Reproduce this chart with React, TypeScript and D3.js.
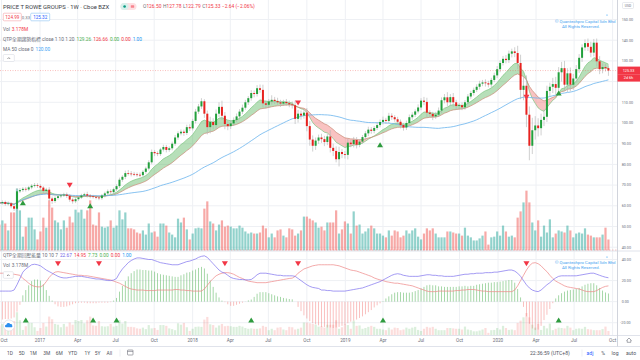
import * as d3 from 'd3';

// weekly bars, first week starts Mon 26 Sep 2016
const firstOpen = 61.8;
const closes = [
  61.3, 61.8, 60.9, 61.2, 59.8, 58.6, 67.0, 67.6, 68.2, 67.9,
  68.9, 69.7, 70.0, 69.6, 68.8, 67.2, 67.8, 63.5, 62.3, 63.8,
  64.6, 65.0, 65.4, 64.8, 63.0, 62.2, 63.2, 64.0, 65.0, 65.6,
  64.9, 64.6, 64.3, 64.0, 63.7, 65.0, 66.0, 67.0, 66.6, 68.0,
  69.5, 72.6, 74.0, 75.8, 75.6, 75.4, 75.2, 75.0, 74.8, 76.4,
  78.0, 81.0, 86.0, 85.4, 85.0, 87.2, 88.4, 87.0, 87.8, 90.0,
  93.0, 95.0, 95.8, 95.2, 98.0, 97.4, 101.0, 105.5, 108.0, 110.5,
  104.5, 98.0, 100.5, 99.0, 104.5, 107.8, 103.5, 99.5, 98.5, 99.8,
  101.5, 103.2, 105.5, 107.4, 110.0, 112.0, 114.5, 114.0, 116.8, 116.0,
  109.5, 108.8, 110.4, 111.2, 110.6, 110.0, 109.4, 110.2, 109.6, 109.0,
  108.6, 102.0, 104.5, 103.6, 105.0, 98.5, 92.0, 89.0, 91.5, 93.0,
  92.2, 90.8, 93.5, 88.0, 86.5, 82.5, 86.0, 85.0, 84.6, 90.5,
  89.8, 91.8, 89.5, 91.0, 93.2, 95.0, 96.8, 96.2, 97.6, 99.0,
  100.5, 101.5, 101.0, 103.5, 102.8, 101.8, 100.6, 99.0, 97.8, 100.0,
  102.8, 104.0, 105.6, 107.5, 110.8, 110.2, 105.0, 104.4, 103.2, 104.0,
  106.0, 111.0, 112.4, 110.0, 112.5, 110.0, 108.2, 108.6, 107.6, 110.0,
  112.8, 114.5, 116.0, 117.5, 119.0, 119.6, 119.2, 118.6, 120.8, 123.0,
  126.0, 129.0, 131.0, 130.4, 133.5, 134.6, 133.8, 129.0, 116.0, 118.0,
  104.0, 89.0, 96.5, 98.8, 97.5, 101.5, 103.0, 115.5, 117.5, 118.8,
  117.0, 124.5, 126.5, 118.5, 124.0, 118.5, 121.5, 126.0, 131.5, 136.5,
  138.6, 136.8, 134.0, 138.8, 129.8, 126.0, 127.0, 126.5, 125.33,
];
// wick length above / below the body
const hiWick = [
  0.6, 0.8, 0.7, 0.9, 0.6, 0.8, 1.5, 1.0, 0.8, 0.9, 0.7, 0.8, 1.0, 0.9, 0.8, 0.7, 0.9, 1.2, 1.0, 0.8,
  0.7, 0.8, 0.9, 1.0, 0.8, 0.7, 0.8, 0.9, 0.8, 0.7, 1.2, 0.8, 0.7, 0.9, 0.8, 0.7, 0.8, 0.9, 1.0, 0.8,
  0.9, 1.0, 0.8, 1.2, 1.5, 1.2, 1.0, 0.9, 1.1, 0.8, 0.9, 1.0, 1.2, 1.0, 0.9, 0.8, 1.1, 1.0, 0.9, 1.0,
  1.2, 1.0, 1.1, 1.0, 1.2, 1.4, 1.0, 1.3, 1.2, 1.5, 1.0, 1.5, 2.5, 1.8, 2.0, 2.2, 3.0, 1.8, 1.5, 1.6,
  1.2, 1.4, 1.2, 1.5, 1.2, 1.0, 1.4, 1.2, 1.5, 1.8, 2.5, 1.5, 1.2, 2.2, 1.4, 1.6, 1.2, 1.0, 1.4, 1.2,
  1.4, 2.2, 1.8, 1.5, 1.6, 2.2, 2.5, 2.0, 1.5, 1.4, 1.8, 1.6, 1.2, 3.0, 2.0, 2.2, 2.5, 1.4, 1.5, 1.8,
  1.2, 1.5, 1.4, 1.2, 1.0, 1.1, 1.4, 1.2, 1.0, 1.3, 1.2, 1.6, 1.0, 1.4, 1.2, 1.0, 1.2, 1.1, 1.0, 1.2,
  1.3, 1.2, 1.0, 1.5, 1.2, 1.8, 2.0, 1.2, 1.0, 1.4, 1.5, 1.4, 1.6, 2.5, 1.5, 2.0, 1.2, 1.0, 1.3, 1.1,
  1.2, 1.0, 1.1, 1.2, 1.4, 1.2, 1.5, 1.2, 1.0, 1.3, 1.5, 1.2, 1.4, 1.8, 1.5, 1.3, 2.0, 3.5, 4.0, 4.5,
  5.0, 4.0, 6.0, 4.5, 3.5, 3.0, 3.5, 2.5, 2.0, 3.0, 3.5, 2.5, 3.0, 3.5, 2.5, 2.8, 2.2, 2.0, 1.8, 1.5,
  1.8, 2.2, 2.5, 1.8, 2.0, 2.5, 1.8, 1.5, 1.28,
];
const loWick = [
  0.8, 0.7, 0.9, 0.8, 1.0, 1.1, 1.0, 0.8, 0.9, 1.0, 0.8, 0.9, 0.8, 1.0, 0.9, 1.1, 0.8, 1.2, 1.4, 0.9,
  0.8, 0.9, 0.7, 1.0, 1.1, 1.2, 0.9, 0.8, 0.7, 0.8, 0.9, 1.0, 0.8, 0.9, 1.0, 0.8, 0.9, 0.8, 1.0, 0.9,
  0.8, 0.9, 1.0, 1.1, 1.0, 1.2, 0.9, 1.0, 1.1, 0.8, 0.9, 1.0, 0.9, 1.4, 1.0, 0.9, 1.0, 1.2, 0.9, 1.0,
  1.0, 1.1, 1.0, 1.4, 1.0, 1.3, 1.0, 1.2, 1.1, 1.2, 2.0, 3.5, 3.0, 2.0, 1.8, 1.6, 2.0, 2.5, 2.0, 1.4,
  1.2, 1.0, 1.4, 1.2, 1.0, 1.3, 1.2, 1.6, 1.2, 1.4, 2.0, 1.8, 1.2, 1.5, 1.4, 1.2, 1.6, 1.2, 1.3, 1.4,
  1.6, 2.5, 1.8, 2.0, 1.5, 2.5, 3.0, 2.8, 2.0, 1.6, 1.8, 2.0, 1.5, 2.2, 2.5, 1.5, 3.5, 2.0, 1.8, 2.2,
  1.5, 1.6, 1.8, 1.2, 1.0, 1.2, 1.3, 1.4, 1.2, 1.0, 1.1, 1.2, 1.4, 1.0, 1.3, 1.2, 1.4, 1.6, 1.5, 1.2,
  1.0, 1.2, 1.1, 1.0, 1.3, 1.6, 2.2, 1.5, 1.8, 1.2, 1.1, 1.3, 1.5, 2.0, 1.8, 2.2, 1.8, 1.5, 1.4, 1.2,
  1.0, 1.1, 1.2, 1.0, 1.3, 1.2, 1.6, 1.4, 1.2, 1.1, 1.3, 1.5, 1.2, 1.6, 1.4, 1.8, 2.0, 3.0, 4.5, 5.0,
  6.0, 7.0, 4.0, 4.5, 4.0, 3.5, 3.0, 2.5, 2.8, 3.0, 4.0, 3.5, 4.5, 3.0, 3.5, 3.2, 2.5, 2.0, 1.8, 2.0,
  1.6, 2.0, 2.2, 1.8, 2.5, 2.4, 2.0, 1.6, 2.54,
];
// weekly volume, millions
const volumes = [
  7.5, 8.7, 7.8, 5.8, 11.0, 11.0, 17.9, 11.6, 4.0, 6.9,
  9.5, 9.5, 6.1, 3.2, 5.5, 9.5, 6.6, 14.5, 12.4, 8.7,
  8.1, 6.1, 8.7, 6.6, 9.8, 8.1, 11.8, 11.0, 11.8, 9.2,
  11.6, 14.5, 7.5, 7.2, 11.0, 6.9, 6.6, 6.9, 8.7, 6.6,
  7.2, 11.6, 9.0, 11.0, 6.4, 6.4, 6.1, 5.2, 4.9, 5.8,
  4.6, 7.8, 5.2, 5.5, 4.0, 7.8, 7.8, 7.2, 5.2, 4.6,
  3.8, 9.2, 8.1, 9.5, 6.1, 3.2, 4.9, 6.4, 6.6, 6.4,
  12.1, 14.2, 8.4, 7.8, 5.8, 7.5, 8.7, 6.9, 7.2, 6.9,
  6.4, 6.4, 7.2, 6.6, 5.5, 4.9, 5.2, 4.9, 4.9, 5.2,
  7.2, 6.4, 3.8, 4.9, 3.8, 5.8, 6.1, 4.3, 3.8, 6.4,
  6.1, 4.3, 4.9, 5.8, 9.8, 9.8, 9.2, 8.7, 8.1, 6.6,
  6.9, 5.8, 8.1, 8.1, 8.1, 11.6, 4.9, 6.1, 8.4, 7.8,
  4.9, 11.3, 7.2, 7.5, 4.9, 5.5, 6.4, 7.2, 6.4, 4.9,
  4.9, 4.3, 3.8, 5.8, 4.3, 5.8, 5.5, 3.8, 4.3, 5.8,
  4.9, 5.8, 6.4, 4.0, 3.2, 4.9, 6.4, 5.8, 6.4, 4.9,
  3.8, 3.8, 3.8, 5.5, 5.5, 5.2, 4.9, 4.9, 4.3, 6.6,
  4.3, 3.8, 2.9, 2.9, 3.5, 4.3, 5.5, 1.7, 3.8, 4.0,
  5.5, 4.3, 7.2, 5.5, 4.0, 4.3, 3.8, 9.5, 11.3, 13.9,
  17.3, 13.9, 8.1, 5.8, 8.7, 4.0, 7.2, 5.2, 9.0, 3.8,
  4.9, 5.8, 5.5, 5.2, 7.2, 5.8, 3.8, 4.9, 5.2, 4.9,
  6.4, 4.6, 4.3, 3.8, 3.8, 3.8, 4.6, 6.6, 3.178,
];
// lower pane oscillator lines
const oscBlue = [
  10, 10, 10, 10, 10, 11, 16, 22, 28, 31,
  33, 35, 35.5, 35, 34, 32, 30, 28.5, 27, 25.5,
  24, 23, 22.5, 22.5, 23, 23.5, 24, 24, 24, 23.5,
  23, 22.5, 22, 21.5, 21.5, 21, 20.5, 20, 20, 20.5,
  22, 27, 31, 34, 37, 39, 40.5, 41.5, 41.5, 41,
  40.5, 40, 40, 39, 38, 37, 36.5, 36, 35.5, 35,
  35, 35, 36, 37, 38, 38.5, 39.5, 40.5, 42, 43,
  43.5, 42, 39, 36, 33, 30, 28, 27, 25, 23,
  22, 21.5, 21, 21, 20.7, 20.7, 21, 23, 25.5, 27,
  27, 27, 26.5, 26, 25.5, 25, 25, 24.5, 24.5, 24.5,
  24.5, 24, 22, 20, 18, 16, 14.5, 13.5, 13, 12.5,
  11, 11, 10.5, 10.5, 10, 10, 10, 10, 10, 10.5,
  11, 11.5, 12, 12.5, 13, 14, 15, 16, 17, 18,
  19, 20.5, 22, 23.5, 25, 26, 26.5, 26, 25, 24.5,
  24, 24, 24, 24, 24.5, 25, 25.5, 25.5, 25, 25,
  24.5, 24.5, 24, 24, 24, 24, 24.5, 25, 25.5, 26,
  26, 26.5, 26.5, 27, 27, 27, 27.5, 27.5, 27.5, 28,
  28, 28.5, 29, 29.5, 30, 30, 29, 27, 24, 20,
  16, 13, 11, 10, 9.5, 11, 13.5, 16, 18, 20.5,
  22.5, 24, 24.5, 24.5, 24.5, 24.5, 24.5, 24.5, 25, 25.5,
  26, 26.5, 27, 27, 26, 25, 24, 23.2, 22.67,
];
const oscRed = [
  27, 27, 26.5, 26.5, 26, 26, 25.5, 25, 22, 20,
  17.5, 15.5, 14.5, 14, 14, 15.5, 19, 23, 26, 28,
  28.5, 28, 27.5, 27, 26.5, 26, 25.5, 25, 25, 24.5,
  24.5, 24, 23.5, 23, 22.5, 22, 21.5, 21, 20.5, 19.5,
  18.5, 17.5, 16, 14.5, 13, 12, 11.5, 11, 11, 11,
  10.5, 10.5, 10.5, 10.5, 11, 11, 11, 11, 11, 11,
  11.5, 11.5, 11, 11, 10.5, 10.5, 10, 10, 10, 10,
  12, 15.5, 19, 22, 24.5, 26, 27, 27.5, 27.5, 27,
  26, 24.5, 23, 22, 20.6, 19.5, 19, 18.5, 18, 18,
  18, 18, 18.5, 19, 19.5, 20, 20.5, 21, 21.5, 22,
  22.3, 24, 27, 29, 31, 32, 33, 34, 34.5, 35,
  35, 35, 35, 35, 35, 34.5, 34, 33, 32, 31,
  30, 29.5, 29, 28, 27, 26, 25, 24, 22.5, 21.5,
  20.6, 20, 19, 18.5, 18, 17.5, 17.5, 17, 16.5, 16,
  15.5, 15, 14, 13, 12, 11, 10, 9.5, 9.5, 9.5,
  10, 10, 10, 10, 10, 10, 10.5, 10.5, 11, 11,
  11.5, 11.5, 11.5, 11, 10.5, 10, 10, 9.5, 9.5, 9.5,
  9.5, 9.5, 9.5, 9.5, 9.5, 9.5, 11, 15, 20, 25,
  30, 34, 36.5, 37, 36, 34, 31, 28.5, 25, 22,
  19.5, 18, 16.5, 15, 14, 13.5, 13, 12.5, 12, 11,
  10, 9.5, 9.5, 9.5, 10.5, 12, 13.5, 14.5, 14.95,
];
// signals (week index + price level)
const mainBuyWeeks = [8, 31, 130, 191];
const mainBuyPrices = [61.4, 60.0, 89.4, 114.5];
const mainSellWeeks = [24, 102, 180];
const mainSellPrices = [70.0, 109.7, 112.5];
const oscBuyWeeks = [9, 32, 40, 86, 131, 191];
const oscSellWeeks = [20, 34, 77, 102, 180];

const priceTicks = [40, 50, 60, 70, 80, 90, 100, 110, 120, 130, 140, 150];
const oscTicks = [-20, 0, 20, 40];
const lastPrice = 125.33;
const rangeButtons = ['1D', '5D', '1M', '3M', '6M', 'YTD', '1Y', '5Y', 'All'];
const rangeButtonX = [10, 21.7, 33.3, 46.7, 59.3, 72.7, 87.3, 97.7, 109.3];

const UP = '#22a03c';
const DOWN = '#e8221f';
const FONT = 'Roboto, "Noto Sans", "Noto Sans CJK TC", sans-serif';

function ema(values: number[], n: number) {
  const k = 2 / (n + 1);
  const out: number[] = [];
  values.forEach((v, i) => out.push(i === 0 ? v : v * k + out[i - 1] * (1 - k)));
  return out;
}

function sma(values: number[], n: number) {
  return values.map((_, i) => d3.mean(values.slice(Math.max(0, i - n + 1), i + 1)) as number);
}

const App = () => {
  const dates = closes.map((_, i) => new Date(2016, 8, 26 + 7 * i));
  const opens = closes.map((_, i) => (i === 0 ? firstOpen : closes[i - 1]));
  const highs = closes.map((c, i) => Math.max(c, opens[i]) + hiWick[i]);
  const lows = closes.map((c, i) => Math.min(c, opens[i]) - loWick[i]);
  const fast = ema(closes, 10);
  const slow = ema(closes, 20);
  const ma50 = sma(closes, 50);
  const hist = oscBlue.map((v, i) => v - oscRed[i]);

  const plotR = 617;
  const x = d3.scaleTime().domain([new Date(2017, 0, 1), new Date(2020, 0, 1)]).range([40, 498]);
  const yP = d3.scaleLinear().domain([40, 150]).range([247.2, 19.5]);
  const yV = d3.scaleLinear().domain([0, 20]).range([250.5, 181.3]);
  const yO = d3.scaleLinear().domain([-20, 40]).range([322.7, 259.5]);
  const yOV = d3.scaleLinear().domain([0, 17.3]).range([335, 313]);
  const timeTicks = d3.timeMonth.every(3)!.range(new Date(2016, 9, 1), new Date(2020, 10, 2));
  const fmtTick = (d: Date) => (d.getMonth() === 0 ? d3.timeFormat('%Y')(d) : d3.timeFormat('%b')(d));
  const xi = (i: number) => x(dates[i]);

  const greenArea = d3.area<number>()
    .x((_, i) => xi(i))
    .y0((_, i) => yP(slow[i]))
    .y1((_, i) => yP(Math.max(fast[i], slow[i])))(closes) || '';
  const redArea = d3.area<number>()
    .x((_, i) => xi(i))
    .y0((_, i) => yP(fast[i]))
    .y1((_, i) => yP(Math.max(fast[i], slow[i])))(closes) || '';
  const lineOf = (vals: number[], y: (v: number) => number) =>
    d3.line<number>().x((_, i) => xi(i)).y((v) => y(v))(vals) || '';

  const upTri = (cx: number, cy: number) => `M${cx},${cy - 2.6}L${cx + 3},${cy + 2.4}L${cx - 3},${cy + 2.4}Z`;
  const downTri = (cx: number, cy: number) => `M${cx - 3},${cy - 2.4}L${cx + 3},${cy - 2.4}L${cx},${cy + 2.6}Z`;

  const axisColor = '#6a6d78';
  const grid = '#eef0f4';
  const border = '#e0e3eb';

  return (
    <svg width={640} height={360} style={{ position: 'fixed', left: 0, top: 0 }} fontFamily={FONT}>
      <defs>
        <clipPath id="pricePane"><rect x={0} y={0} width={plotR} height={251} /></clipPath>
        <clipPath id="oscPane"><rect x={0} y={251} width={plotR} height={84} /></clipPath>
      </defs>
      <rect width={640} height={360} fill="#fff" />

      {/* grid */}
      {timeTicks.map((t, i) => (
        <line key={'vg' + i} x1={x(t)} x2={x(t)} y1={0} y2={335} stroke={grid} strokeWidth={1} />
      ))}
      {priceTicks.map((t) => (
        <line key={'hg' + t} x1={0} x2={plotR} y1={yP(t)} y2={yP(t)} stroke={grid} strokeWidth={1} />
      ))}
      {oscTicks.map((t) => (
        <line key={'og' + t} x1={0} x2={plotR} y1={yO(t)} y2={yO(t)} stroke={grid} strokeWidth={1} />
      ))}

      {/* price pane */}
      <g clipPath="url(#pricePane)">
        {volumes.map((v, i) => (
          <rect key={'v' + i} x={xi(i) - 1.1} y={yV(v)} width={2.2} height={yV(0) - yV(v)}
            fill={closes[i] >= opens[i] ? 'rgba(38,166,154,0.5)' : 'rgba(239,83,80,0.5)'} />
        ))}
        <path d={greenArea} fill="rgba(76,175,80,0.4)" />
        <path d={redArea} fill="rgba(239,83,80,0.35)" />
        <path d={lineOf(fast, yP)} fill="none" stroke="#7cc47f" strokeWidth={0.7} />
        <path d={lineOf(slow, yP)} fill="none" stroke="#c98a76" strokeWidth={0.7} />
        <path d={lineOf(ma50, yP)} fill="none" stroke="#6ab4ee" strokeWidth={0.8} />
        {closes.map((c, i) => {
          const cx = xi(i);
          const top = yP(Math.max(c, opens[i]));
          const bot = yP(Math.min(c, opens[i]));
          return (
            <g key={'c' + i}>
              <line x1={cx} x2={cx} y1={yP(highs[i])} y2={yP(lows[i])} stroke="#b0b0b0" strokeWidth={0.6} />
              <rect x={cx - 1} y={top} width={2} height={Math.max(0.8, bot - top)} fill={c >= opens[i] ? UP : DOWN} />
            </g>
          );
        })}
        {mainBuyWeeks.map((w, k) => (
          <path key={'mb' + k} d={upTri(xi(w), yP(mainBuyPrices[k]))} fill="#2e9b3e" />
        ))}
        {mainSellWeeks.map((w, k) => (
          <path key={'ms' + k} d={downTri(xi(w), yP(mainSellPrices[k]))} fill="#f23645" />
        ))}
        <line x1={0} x2={plotR} y1={yP(lastPrice)} y2={yP(lastPrice)} stroke="rgba(239,83,80,0.55)" strokeWidth={0.7} strokeDasharray="1,1.5" />
        <text x={555} y={22.5} fontSize={4.3} fill="#48a4f0">© Quantechpro Capital Sdn Bhd</text>
        <text x={562} y={27.8} fontSize={4.3} fill="#48a4f0">All Rights Reserved.</text>
        <circle cx={607} cy={15} r={0.6} fill="#2196f3" />
      </g>

      {/* oscillator pane */}
      <g clipPath="url(#oscPane)">
        {volumes.map((v, i) => (
          <rect key={'ov' + i} x={xi(i) - 1.1} y={yOV(v)} width={2.2} height={yOV(0) - yOV(v)}
            fill={closes[i] >= opens[i] ? 'rgba(76,175,80,0.2)' : 'rgba(239,83,80,0.2)'} />
        ))}
        {hist.map((h, i) => (
          <rect key={'h' + i} x={xi(i) - 0.45} y={Math.min(yO(h), yO(0))} width={0.9}
            height={Math.abs(yO(h) - yO(0))} fill={h >= 0 ? 'rgba(76,175,80,0.55)' : 'rgba(239,83,80,0.4)'} />
        ))}
        <path d={lineOf(oscRed, yO)} fill="none" stroke="#ee8585" strokeWidth={0.7} />
        <path d={lineOf(oscBlue, yO)} fill="none" stroke="#7d70ee" strokeWidth={0.7} />
        {oscBuyWeeks.map((w, k) => (
          <path key={'ob' + k} d={upTri(xi(w), yO(-17.5))} fill="#2e9b3e" />
        ))}
        {oscSellWeeks.map((w, k) => (
          <path key={'os' + k} d={downTri(xi(w), yO(36))} fill="#f23645" />
        ))}
        <text x={555} y={263.5} fontSize={4.3} fill="#48a4f0">© Quantechpro Capital Sdn Bhd</text>
        <text x={562} y={269} fontSize={4.3} fill="#48a4f0">All Rights Reserved.</text>
        <circle cx={607} cy={257} r={0.6} fill="#2196f3" />
      </g>

      {/* pane borders */}
      <line x1={0} x2={640} y1={251} y2={251} stroke={border} strokeWidth={1} />
      <line x1={0} x2={plotR} y1={250} y2={250} stroke="rgba(239,83,80,0.45)" strokeWidth={0.7} strokeDasharray="1.5,1.5" />
      <line x1={0} x2={640} y1={335.5} y2={335.5} stroke={border} strokeWidth={1} />
      <line x1={0} x2={640} y1={346.5} y2={346.5} stroke={border} strokeWidth={1} />
      <line x1={plotR + 0.5} x2={plotR + 0.5} y1={0} y2={346.5} stroke="#d1d4dc" strokeWidth={1} />

      {/* right axis */}
      {priceTicks.filter((t) => Math.abs(yP(t) - 74.5) > 8).map((t) => (
        <text key={'pl' + t} x={621.7} y={yP(t) + 1.3} fontSize={3.7} fill={axisColor}>{t.toFixed(2)}</text>
      ))}
      {oscTicks.map((t) => (
        <text key={'ol' + t} x={t < 0 ? 620.3 : 621.7} y={yO(t) + 1.3} fontSize={3.7} fill={axisColor}>{t.toFixed(2)}</text>
      ))}
      <rect x={617.5} y={66.6} width={22.5} height={7.6} fill="#f23645" />
      <text x={628.5} y={71.8} fontSize={3.8} fill="#fff" textAnchor="middle">125.33</text>
      <rect x={617.5} y={74.2} width={22.5} height={7.4} fill="#f23645" />
      <text x={628.5} y={79.3} fontSize={3.8} fill="#fff" textAnchor="middle">2d 6h</text>
      <rect x={622.5} y={2.5} width={11} height={6} rx={1} fill="#fff" stroke="#d1d4dc" strokeWidth={0.5} />
      <text x={628} y={6.8} fontSize={3.3} fill={axisColor} textAnchor="middle">USD</text>

      {/* time axis */}
      {timeTicks.map((t, i) => {
        const tx = x(t);
        const atEdge = tx < 5;
        return (
          <text key={'tl' + i} x={atEdge ? 0.5 : tx} y={342.2} fontSize={4.6} fill={axisColor}
            textAnchor={atEdge ? 'start' : 'middle'}>{fmtTick(t)}</text>
        );
      })}
      <path d="M626.5,340.5L629,338L631.5,340.5M627.2,340L627.2,342.3L630.8,342.3L630.8,340" fill="none" stroke="#6a6d78" strokeWidth={0.6} />

      {/* header legend */}
      <text x={3} y={8.6} fontSize={5.9} fill="#3a3d46">PRICE T ROWE GROUPS · 1W · Cboe BZX</text>
      <rect x={120.5} y={3} width={16} height={7} rx={3.5} fill="#fde0e3" />
      <rect x={120.5} y={3} width={8} height={7} rx={3.5} fill="#d8f1ec" />
      <circle cx={124.6} cy={6.5} r={1.3} fill="#089981" />
      <rect x={130.8} y={5.2} width={3.4} height={2.6} rx={0.6} fill="#f7848e" />
      <text x={143} y={8.4} fontSize={4.9} fill="#f23645">
        <tspan fill="#6a6d78">O</tspan>126.50<tspan fill="#6a6d78" dx={1.5}>H</tspan>127.78
        <tspan fill="#6a6d78" dx={1.5}>L</tspan>122.79<tspan fill="#6a6d78" dx={1.5}>C</tspan>125.33
        <tspan dx={1.5}>−2.64 (−2.06%)</tspan>
      </text>
      <rect x={3.3} y={13.2} width={18} height={7.6} rx={1} fill="#fff" stroke="#f5a3a8" strokeWidth={0.6} />
      <text x={12.3} y={18.7} fontSize={4.6} fill="#f23645" textAnchor="middle">124.99</text>
      <text x={26} y={18.7} fontSize={4.3} fill="#6a6d78" textAnchor="middle">0.33</text>
      <rect x={30.7} y={13.2} width={19} height={7.6} rx={1} fill="#fff" stroke="#8cc2f3" strokeWidth={0.6} />
      <text x={40.2} y={18.7} fontSize={4.6} fill="#2962ff" textAnchor="middle">125.32</text>
      <text x={3} y={30.7} fontSize={4.8} fill="#6a6d78">Vol<tspan fill="#f23645" dx={2}>3.178M</tspan></text>
      <text x={3} y={40.7} fontSize={4.8} fill="#6a6d78">
        QTP全期趨勢指標 close 1 10 1 20
        <tspan fill="#4caf50" dx={2}>129.26</tspan>
        <tspan fill="#f23645" dx={2}>126.66</tspan>
        <tspan fill="#4caf50" dx={2}>0.00</tspan>
        <tspan fill="#f23645" dx={2}>0.00</tspan>
        <tspan fill="#2196f3" dx={2}>1.00</tspan>
      </text>
      <text x={3} y={50.7} fontSize={4.8} fill="#6a6d78">MA 50 close 0<tspan fill="#42a5f5" dx={2}>120.00</tspan></text>
      <rect x={3.3} y={54.5} width={11} height={7} rx={1} fill="#fff" stroke="#d1d4dc" strokeWidth={0.5} />
      <path d="M7.4,59L8.8,57.6L10.2,59" fill="none" stroke="#555" strokeWidth={0.6} />

      {/* lower pane legend */}
      <text x={3} y={256.9} fontSize={4.8} fill="#6a6d78">
        QTP全期回壓能量 10 10 7
        <tspan fill="#6f63e8" dx={2}>22.67</tspan>
        <tspan fill="#f23645" dx={2}>14.95</tspan>
        <tspan fill="#4caf50" dx={2}>7.73</tspan>
        <tspan fill="#4caf50" dx={2}>0.00</tspan>
        <tspan fill="#f23645" dx={2}>0.00</tspan>
        <tspan fill="#2196f3" dx={2}>1.00</tspan>
      </text>
      <text x={3} y={266.9} fontSize={4.8} fill="#6a6d78">Vol<tspan dx={2}>3.178M</tspan></text>
      <rect x={3.3} y={271.7} width={10} height={6.6} rx={1} fill="#fff" stroke="#d1d4dc" strokeWidth={0.5} />
      <path d="M7,276L8.3,274.7L9.6,276" fill="none" stroke="#555" strokeWidth={0.6} />

      {/* logo */}
      <circle cx={9} cy={325.5} r={5.6} fill="#fff" stroke="#d6d9e0" strokeWidth={0.6} />
      <path d="M5.8,327.2a1.3,1.3 0 0 1 0.6,-2.5a2,2 0 0 1 3.8,-0.6a1.5,1.5 0 0 1 2,1.6a1,1 0 0 1 -0.4,1.5Z" fill="#2a8ff0" />

      {/* bottom toolbar */}
      {rangeButtons.map((b, i) => (
        <text key={b} x={rangeButtonX[i]} y={354.5} fontSize={4.9} fill="#50535e" textAnchor="middle">{b}</text>
      ))}
      <line x1={120} x2={120} y1={349.5} y2={356.5} stroke={border} strokeWidth={0.6} />
      <rect x={127.5} y={350} width={5.5} height={5} rx={0.6} fill="none" stroke="#50535e" strokeWidth={0.5} />
      <line x1={127.5} x2={133} y1={351.4} y2={351.4} stroke="#50535e" strokeWidth={0.5} />
      <text x={530} y={354.5} fontSize={5.1} fill="#50535e">22:36:59 (UTC+8)</text>
      <line x1={582} x2={582} y1={349.5} y2={356.5} stroke={border} strokeWidth={0.6} />
      <text x={590} y={354.5} fontSize={5.1} fill="#2962ff" textAnchor="middle">adj</text>
      <text x={603} y={354.5} fontSize={5.1} fill="#50535e" textAnchor="middle">%</text>
      <text x={615} y={354.5} fontSize={5.1} fill="#50535e" textAnchor="middle">log</text>
      <text x={631} y={354.5} fontSize={5.1} fill="#50535e" textAnchor="middle">auto</text>
    </svg>
  );
};

export default App;
